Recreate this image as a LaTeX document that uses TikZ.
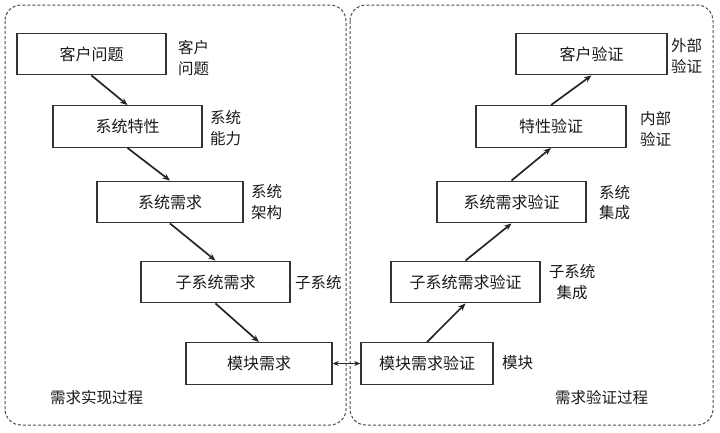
\documentclass[tikz,border=0pt]{standalone}
\usepackage{fontspec}
\setmainfont{Noto Sans CJK SC}
\usetikzlibrary{arrows.meta}
\begin{document}
\begin{tikzpicture}[x=1pt,y=-1pt,
  box/.style={draw=black!80, line width=1.4pt, minimum height=41.5pt, inner sep=0pt, font=\fontsize{16}{20}\selectfont, text=black!90},
  lbl/.style={align=left, inner sep=0pt, font=\fontsize{15.5}{20.5}\selectfont, text=black!90},
  flow/.style={-{Stealth[length=7.5pt,width=6pt]}, line width=1.7pt, draw=black!85},
  region/.style={draw=black!70, line width=1pt, dash pattern=on 3pt off 2pt, rounded corners=16pt}]
\useasboundingbox (0,0) rectangle (720,432);
\draw[region] (5,5) rectangle (346,425);
\draw[region] (350,5) rectangle (713,425);
% left chain
\node[box, minimum width=149pt] (q1) at (91.5,54) {客户问题};
\node[box, minimum width=149pt] (q2) at (127.5,126.5) {系统特性};
\node[box, minimum width=146pt] (q3) at (170,202) {系统需求};
\node[box, minimum width=149pt] (q4) at (215.5,282) {子系统需求};
\node[box, minimum width=146pt] (q5) at (259,363.5) {模块需求};
% right chain
\node[box, minimum width=151pt] (v1) at (591.5,54) {客户验证};
\node[box, minimum width=150pt] (v2) at (551,126.5) {特性验证};
\node[box, minimum width=149pt] (v3) at (511.5,202) {系统需求验证};
\node[box, minimum width=149pt] (v4) at (465.5,282) {子系统需求验证};
\node[box, minimum width=132pt] (v5) at (427,363.5) {模块需求验证};
% labels
\node[lbl, anchor=west] (l1) at (178,58) {客户\\问题};
\node[lbl, anchor=west] (l2) at (210,128) {系统\\能力};
\node[lbl, anchor=west] (l3) at (251,202) {系统\\架构};
\node[lbl, anchor=west] (l4) at (295,283) {子系统};
\node[lbl, anchor=west] (l5) at (50,398) {需求实现过程};
\node[lbl, anchor=west] (r1) at (671,56) {外部\\验证};
\node[lbl, anchor=west] (r2) at (640,129) {内部\\验证};
\node[lbl, anchor=west] (r3) at (599,202.5) {系统\\集成};
\node[lbl, align=center] (r4) at (572,282) {子系统\\集成};
\node[lbl, anchor=west] (r5) at (502,363) {模块};
\node[lbl, anchor=west] (r6) at (555,398) {需求验证过程};
% connectors
\draw[flow] (q1.south) -- (q2.north);
\draw[flow] (q2.south) -- (q3.north);
\draw[flow] (q3.south) -- (q4.north);
\draw[flow] (q4.south) -- (q5.north);
\draw[flow] (v5.north) -- (v4.south);
\draw[flow] (v4.north) -- (v3.south);
\draw[flow] (v3.north) -- (v2.south);
\draw[flow] (v2.north) -- (v1.south);
\draw[{Stealth[length=6pt,width=5pt]}-{Stealth[length=6pt,width=5pt]}, line width=1.4pt, draw=black!85] (q5.east) -- (v5.west);
\end{tikzpicture}
\end{document}
